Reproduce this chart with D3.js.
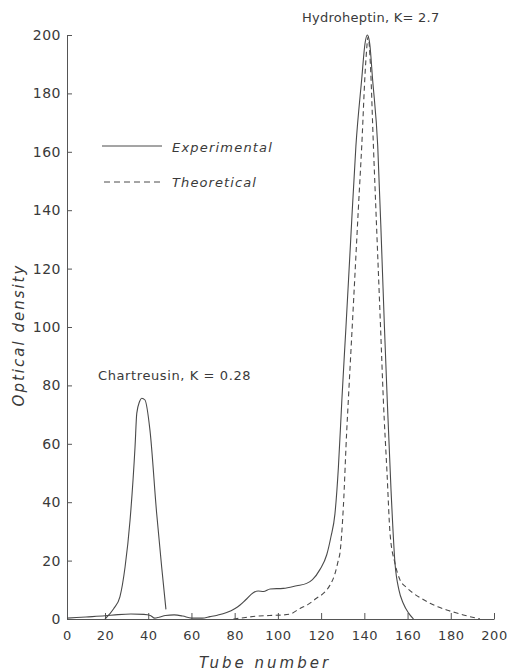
<!DOCTYPE html>
<html>
<head>
<meta charset="utf-8">
<script src="https://cdn.jsdelivr.net/npm/d3@7"></script>
<style>
  body { margin: 0; background: #fff; }
  svg text { font-family: "DejaVu Sans", sans-serif; fill: #3a3a3a; }
</style>
</head>
<body>
<script>
// tick labels
var xTicks = [0, 20, 40, 60, 80, 100, 120, 140, 160, 180, 200];
var yTicks = [0, 20, 40, 60, 80, 100, 120, 140, 160, 180, 200];

// experimental, chartreusin peak (drawn as its own stroke)
var chartTube = [20, 24, 26.9, 29.3, 31.6, 33.9, 34.7, 36, 37, 38.5, 40.8, 43.9, 46.2, 48.2];
var chartOD   = [0, 3.5, 7.6, 17.9, 33.9, 59, 70.4, 74.5, 75.6, 75, 64.7, 36.2, 18, 3.3];

// experimental, baseline + hydroheptin peak
var expTube = [0, 10, 20, 26, 32, 38, 41, 43, 45, 48, 52, 56, 60, 65, 68.6, 72, 76.3, 80, 82.5, 85,
               88.6, 90.9, 93.3, 96.4, 102.5, 108.7, 113.3, 116, 119.5, 122.6, 124.5, 126.4, 128, 129.2, 129.6,
               131.5, 133.7, 136.1, 138.8, 140.3, 141.4, 142.5, 143.8, 146.2, 148.1, 149.3, 150.6, 152.3,
               154.2, 156, 158, 160.5, 162.7];
var expOD   = [0.3, 0.7, 1.1, 1.5, 1.7, 1.6, 1.2, 0.3, 0.6, 1.2, 1.4, 1.0, 0.3, 0.3, 0.8, 1.3, 2.2, 3.5, 4.8, 6.5,
               9, 9.6, 9.4, 10.3, 10.5, 11.4, 12.2, 13.5, 17, 22, 28, 36, 52, 69, 75,
               100, 130, 162, 185, 197, 200, 197, 185, 162, 125, 100, 75, 45,
               19, 10, 5.4, 2, 0];

// theoretical, hydroheptin
var theoTube = [79.4, 85, 90.2, 96, 102.5, 106, 110.2, 114, 118, 121.4, 124.1, 126.2, 128, 128.7, 130.3,
                131.8, 132.6, 135.1, 137.2, 138.8, 140.6, 141.8, 142.8, 144.2, 145.9, 147.5, 148.8, 150.5,
                151.9, 154.2, 156.5, 159.5, 162.7, 166.5, 170.4, 174, 178.1, 182, 185.8, 190, 193.5];
var theoOD   = [0, 0.5, 1, 1.2, 1.4, 1.8, 3.6, 5, 7.2, 9, 11.6, 15, 20.2, 22.5, 38.5,
                63.6, 75, 110, 140, 162, 190, 199.4, 190, 162, 130, 100, 75, 50,
                29.3, 19, 13.4, 10.8, 8.8, 7, 5.4, 4.2, 3.1, 2.2, 1.4, 0.6, 0];

var width = 507, height = 672;

var svg = d3.select("body").append("svg")
  .attr("width", width)
  .attr("height", height);

// hand drawn axis: first interval is a bit shorter than the rest
var x = d3.scaleLinear().domain([0, 20, 200]).range([67, 105, 494]);
var y = d3.scaleLinear().domain([0, 200]).range([619, 35]);

function pairs(t, v) {
  return t.map(function(d, i) { return [d, v[i]]; });
}

var line = d3.line()
  .x(function(d) { return x(d[0]); })
  .y(function(d) { return y(d[1]); })
  .curve(d3.curveMonotoneX);

// axes
var yAxis = svg.append("g")
  .attr("transform", "translate(" + x(0) + ",0)")
  .call(d3.axisLeft(y).tickValues(yTicks).tickSizeInner(-5).tickSizeOuter(0).tickPadding(6));

var xAxis = svg.append("g")
  .attr("transform", "translate(0," + y(0) + ")")
  .call(d3.axisBottom(x).tickValues(xTicks).tickSizeInner(-6).tickSizeOuter(0).tickPadding(12));

[xAxis, yAxis].forEach(function(a) {
  a.selectAll("path, line").attr("stroke", "#555").attr("stroke-width", 1);
  a.selectAll("text").attr("fill", "#3a3a3a").style("font-family", "DejaVu Sans, sans-serif");
});
yAxis.selectAll("text").style("font-size", "14px").style("letter-spacing", "0.5px");
xAxis.selectAll("text").style("font-size", "13px").style("letter-spacing", "0.5px");

// curves
svg.append("path")
  .attr("d", line(pairs(expTube, expOD)))
  .attr("fill", "none").attr("stroke", "#4a4a4a").attr("stroke-width", 1.1);

svg.append("path")
  .attr("d", line(pairs(chartTube, chartOD)))
  .attr("fill", "none").attr("stroke", "#4a4a4a").attr("stroke-width", 1.1);

svg.append("path")
  .attr("d", line(pairs(theoTube, theoOD)))
  .attr("fill", "none").attr("stroke", "#4a4a4a").attr("stroke-width", 1.1)
  .attr("stroke-dasharray", "5,3.5");

// legend
svg.append("line").attr("x1", 102).attr("x2", 162).attr("y1", 146).attr("y2", 146)
  .attr("stroke", "#4a4a4a").attr("stroke-width", 1);
svg.append("line").attr("x1", 104).attr("x2", 162).attr("y1", 182).attr("y2", 182)
  .attr("stroke", "#4a4a4a").attr("stroke-width", 1).attr("stroke-dasharray", "6,4");

svg.append("text").attr("x", 172).attr("y", 152)
  .style("font-size", "13px").style("font-style", "italic").style("letter-spacing", "1.2px")
  .text("Experimental");
svg.append("text").attr("x", 172).attr("y", 187)
  .style("font-size", "13px").style("font-style", "italic").style("letter-spacing", "1.1px")
  .text("Theoretical");

// peak labels
svg.append("text").attr("x", 302).attr("y", 22)
  .style("font-size", "13px").style("letter-spacing", "0.25px")
  .text("Hydroheptin, K= 2.7");
svg.append("text").attr("x", 98).attr("y", 380)
  .style("font-size", "13px").style("letter-spacing", "0.6px")
  .text("Chartreusin,  K = 0.28");

// axis titles
svg.append("text")
  .attr("transform", "translate(24,335) rotate(-90)")
  .attr("text-anchor", "middle")
  .style("font-size", "15px").style("font-style", "italic").style("letter-spacing", "2px")
  .text("Optical density");
svg.append("text")
  .attr("x", 265).attr("y", 668)
  .attr("text-anchor", "middle")
  .style("font-size", "15px").style("font-style", "italic").style("letter-spacing", "3px")
  .text("Tube number");
</script>
</body>
</html>
